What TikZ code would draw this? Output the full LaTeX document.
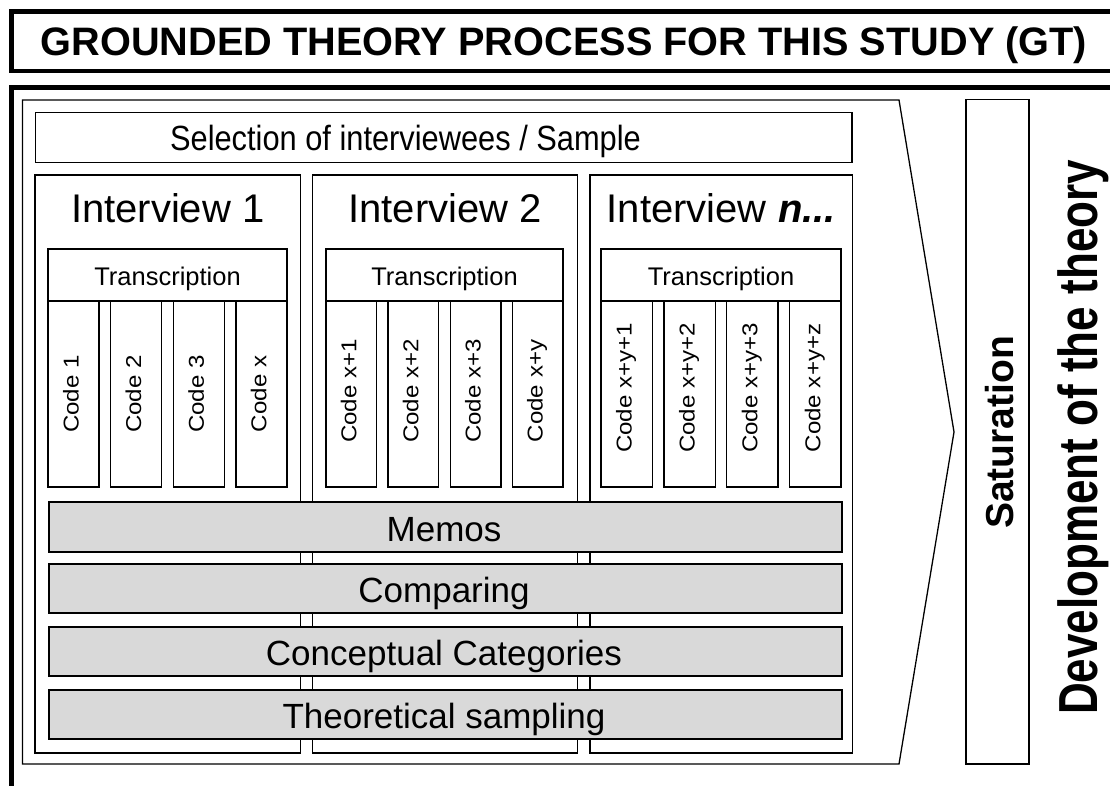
\documentclass[tikz,border=0pt]{standalone}
\usepackage{fontspec}
\setmainfont{Liberation Sans}
\definecolor{barfill}{HTML}{D9D9D9}
\newcommand{\codecol}[5]{%
  \foreach \j/\clab in {#5}{%
    \pgfmathsetmacro\w{(#3-#2-34.5)/4}%
    \pgfmathsetmacro\cx{#2+\j*(\w+11.5)+\w/2}%
    \node[box, minimum width=\w, minimum height=186] (code#1\j) at (\cx,394) {};
    \node[codetext] (codet#1\j) at (\cx+5,#4) {\scalebox{1.12}[1]{\clab}};
  }}
\begin{document}
\begin{tikzpicture}[x=1pt,y=-1pt,
  frameline/.style={line width=4.3pt},
  box/.style={draw=black, line width=1.3pt, inner sep=0pt, outer sep=0pt},
  bar/.style={box, fill=barfill},
  txt/.style={inner sep=0pt, anchor=base},
  titletext/.style={txt, font=\fontsize{39.7}{47}\selectfont\bfseries},
  seltext/.style={txt, font=\fontsize{35}{42}\selectfont},
  ivtext/.style={txt, font=\fontsize{40}{48}\selectfont},
  trtext/.style={txt, font=\fontsize{25.5}{30}\selectfont},
  codetext/.style={txt, rotate=90, font=\fontsize{21.5}{25}\selectfont},
  bartext/.style={txt, font=\fontsize{35}{42}\selectfont},
  sattext/.style={txt, rotate=90, font=\fontsize{39}{47}\selectfont\bfseries},
  devtext/.style={txt, rotate=90, font=\fontsize{55}{60}\selectfont\bfseries}]
\clip (0,0) rectangle (1110,785);
\fill[white] (0,0) rectangle (1110,785);
% title frame (open at the right edge)
\draw[frameline] (1125,11.5) -- (11.5,11.5) -- (11.5,71) -- (1125,71);
\node[titletext] (title) at (564,55) {GROUNDED THEORY PROCESS FOR THIS STUDY (GT)};
% process frame
\draw[frameline] (1125,87.5) -- (11.5,87.5) -- (11.5,800);
% pentagon arrow
\coordinate (pa) at (22.5,100);
\coordinate (pb) at (899,100);
\coordinate (pc) at (954,432);
\coordinate (pd) at (899,764);
\coordinate (pe) at (22.5,764);
\draw[box] (pa) -- (pb) -- (pc) -- (pd) -- (pe) -- cycle;
% selection
\node[box, minimum width=816.5, minimum height=50] (sel) at (443.75,137.5) {};
\node[seltext] (selt) at (405.5,150) {\scalebox{0.88}[1]{Selection of interviewees / Sample}};
% interview columns
\foreach \c/\L/\R/\TL/\TR/\lab in {
  1/35/300.5/48/287/{Interview 1},
  2/312.5/577.5/326/563/{Interview 2},
  3/590/852.5/601/841/{Interview \textbf{\textit{n...}}}}{
  \node[box, minimum width={\R-\L}, minimum height=578] (col\c) at ({(\L+\R)/2},464) {};
  \node[ivtext] (ivt\c) at ({(\L+\R)/2},222) {\lab};
  \node[box, minimum width={\TR-\TL}, minimum height=52] (tr\c) at ({(\TL+\TR)/2},275) {};
  \node[trtext] (trt\c) at ({(\TL+\TR)/2},285) {Transcription};
}
\codecol{1}{48}{287}{394}{0/Code 1,1/Code 2,2/Code 3,3/Code x}
\codecol{2}{326}{563}{391}{0/Code x+1,1/Code x+2,2/Code x+3,3/Code x+y}
\codecol{3}{601}{841}{388}{0/Code x+y+1,1/Code x+y+2,2/Code x+y+3,3/Code x+y+z}
% grey bars
\foreach \n/\cy/\h/\lab in {memo/527/50/Memos, comp/588.5/49/Comparing,
  conc/651.5/49/Conceptual Categories, theo/714.5/49/Theoretical sampling}{
  \node[bar, minimum width=793, minimum height=\h] (\n) at (445.5,\cy) {};
  \node[bartext] (\n t) at (444,\cy+14) {\lab};
}
% saturation
\node[box, minimum width=63, minimum height=664.5] (sat) at (997.5,431.75) {};
\node[sattext] (satt) at (1013,432.5) {Saturation};
% development of the theory
\node[devtext] (dev) at (1097.5,437.5) {\scalebox{0.8}[1]{Development of the theory}};
\end{tikzpicture}
\end{document}
